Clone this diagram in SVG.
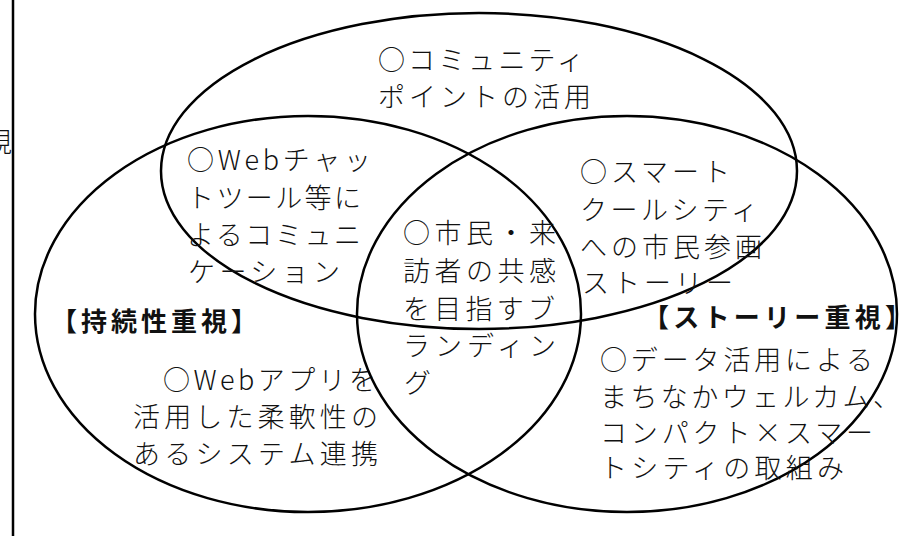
<svg xmlns="http://www.w3.org/2000/svg" width="908" height="536" viewBox="0 0 908 536">
<style>
.e{fill:none;stroke:#000;stroke-width:2.5}
.t{font-family:"Noto Sans CJK JP","Noto Sans",sans-serif;font-size:27px;font-weight:300;fill:#111}
.b{font-family:"Noto Sans CJK JP","Noto Sans",sans-serif;font-size:26px;font-weight:700;fill:#111}
</style>
<rect x="0" y="0" width="908" height="536" fill="#fff"/>
<line x1="13" y1="0" x2="13" y2="536" stroke="#000" stroke-width="2.5"/>
<text class="t" x="-15" y="152">視</text>
<g id="top">
<ellipse class="e" cx="479" cy="171" rx="318" ry="158"/>
<text class="t" x="378" y="70" textLength="206" lengthAdjust="spacing">○コミュニティ</text>
<text class="t" x="378" y="107" textLength="213" lengthAdjust="spacing">ポイントの活用</text>
</g>
<g id="left">
<ellipse class="e" cx="308" cy="314" rx="273" ry="198"/>
<text class="b" x="51" y="331" textLength="206" lengthAdjust="spacing">【持続性重視】</text>
<text class="t" x="163" y="390" textLength="213" lengthAdjust="spacing">○Webアプリを</text>
<text class="t" x="133" y="427" textLength="245" lengthAdjust="spacing">活用した柔軟性の</text>
<text class="t" x="133" y="464" textLength="245" lengthAdjust="spacing">あるシステム連携</text>
</g>
<g id="right">
<ellipse class="e" cx="627" cy="314" rx="270" ry="198"/>
<text class="b" x="643" y="327" textLength="268" lengthAdjust="spacing">【ストーリー重視】</text>
<text class="t" x="600" y="370" textLength="273" lengthAdjust="spacing">○データ活用による</text>
<text class="t" x="600" y="407" textLength="300" lengthAdjust="spacing">まちなかウェルカム、</text>
<text class="t" x="600" y="443" textLength="273" lengthAdjust="spacing">コンパクト×スマー</text>
<text class="t" x="600" y="478" textLength="244" lengthAdjust="spacing">トシティの取組み</text>
</g>
<g id="webchat">
<text class="t" x="187" y="170" textLength="184" lengthAdjust="spacing">○Webチャッ</text>
<text class="t" x="187" y="208" textLength="174" lengthAdjust="spacing">トツール等に</text>
<text class="t" x="187" y="245" textLength="174" lengthAdjust="spacing">よるコミュニ</text>
<text class="t" x="188" y="282" textLength="152" lengthAdjust="spacing">ケーション</text>
</g>
<g id="smart">
<text class="t" x="580" y="182" textLength="150" lengthAdjust="spacing">○スマート</text>
<text class="t" x="580" y="220" textLength="178" lengthAdjust="spacing">クールシティ</text>
<text class="t" x="580" y="257" textLength="182" lengthAdjust="spacing">への市民参画</text>
<text class="t" x="582" y="293" textLength="151" lengthAdjust="spacing">ストーリー</text>
</g>
<g id="center">
<text class="t" x="403" y="243" textLength="153" lengthAdjust="spacing">○市民・来</text>
<text class="t" x="403" y="281" textLength="153" lengthAdjust="spacing">訪者の共感</text>
<text class="t" x="403" y="319" textLength="152" lengthAdjust="spacing">を目指すブ</text>
<text class="t" x="403" y="356" textLength="153" lengthAdjust="spacing">ランディン</text>
<text class="t" x="404" y="393">グ</text>
</g>
</svg>
